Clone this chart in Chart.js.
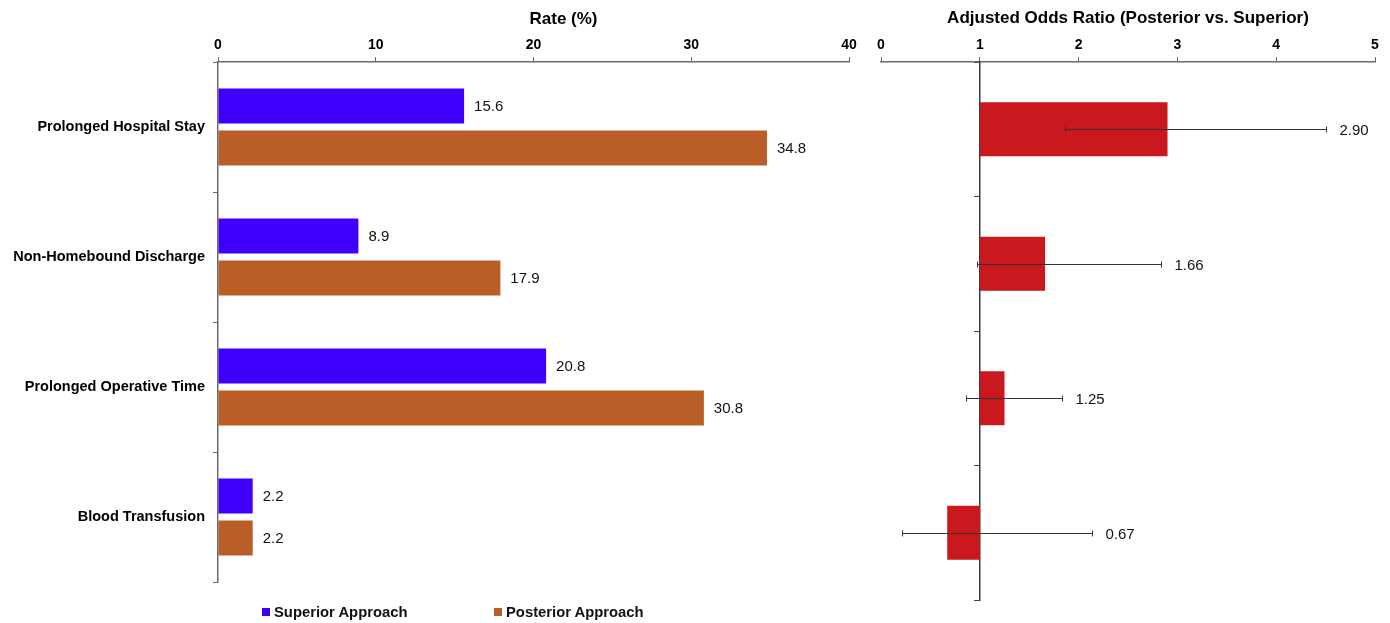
<!DOCTYPE html>
<html><head><meta charset="utf-8">
<script src="https://cdn.jsdelivr.net/npm/chart.js@4"></script>
<style>
html,body{margin:0;padding:0;background:#fff;}
body{width:1390px;height:623px;position:relative;overflow:hidden;font-family:"Liberation Sans",Arial,sans-serif;}
#c1{position:absolute;left:0;top:0;}
#c2{position:absolute;left:870px;top:0;}
.leg{position:absolute;top:603px;font:bold 14.8px "Liberation Sans",Arial,sans-serif;color:#111;white-space:nowrap;line-height:18px;}
.leg span{display:inline-block;width:8px;height:8px;margin-right:4px;vertical-align:middle;position:relative;top:-1px;}
</style></head><body>
<canvas id="c1" width="870" height="623"></canvas>
<canvas id="c2" width="520" height="623"></canvas>
<div class="leg" style="left:262px"><span style="background:#3E00FA"></span>Superior Approach</div>
<div class="leg" style="left:494px"><span style="background:#B95E26"></span>Posterior Approach</div>
<script>
const categories = ['Prolonged Hospital Stay', 'Non-Homebound Discharge', 'Prolonged Operative Time', 'Blood Transfusion'];
const seriesNames = ['Superior Approach', 'Posterior Approach'];
const superiorRates = [15.6, 8.9, 20.8, 2.2];
const posteriorRates = [34.8, 17.9, 30.8, 2.2];
const oddsRatios = [2.90, 1.66, 1.25, 0.67];
const oddsLower = [1.86, 0.97, 0.86, 0.21];
const oddsUpper = [4.50, 2.83, 1.83, 2.14];
const oddsReference = 1;
const rateAxisTitle = 'Rate (%)';
const oddsAxisTitle = 'Adjusted Odds Ratio (Posterior vs. Superior)';

const FONT = '"Liberation Sans", Arial, sans-serif';
const AXIS_COLOR = '#6a6a6a';
Chart.defaults.font.family = FONT;
Chart.defaults.color = '#000';
Chart.defaults.animation = false;

const rateLabels = {
  id: 'rateLabels',
  afterDatasetsDraw(chart) {
    const ctx = chart.ctx;
    ctx.save();
    ctx.font = '15px ' + FONT;
    ctx.fillStyle = '#111';
    ctx.textBaseline = 'middle';
    ctx.textAlign = 'left';
    chart.data.datasets.forEach((ds, di) => {
      chart.getDatasetMeta(di).data.forEach((el, i) => {
        ctx.fillText(ds.data[i].toFixed(1), el.x + 10, el.y + 1);
      });
    });
    ctx.restore();
  },
  afterDraw(chart) {
    const ctx = chart.ctx, a = chart.chartArea;
    ctx.save();
    ctx.font = 'bold 17px ' + FONT;
    ctx.fillStyle = '#000';
    ctx.textAlign = 'center';
    ctx.textBaseline = 'middle';
    ctx.fillText(rateAxisTitle, (a.left + a.right) / 2 + 30, 19);
    ctx.restore();
  }
};

const errorBars = {
  id: 'errorBars',
  afterDatasetsDraw(chart) {
    const ctx = chart.ctx;
    const xs = chart.scales.x;
    const meta = chart.getDatasetMeta(0);
    ctx.save();
    ctx.strokeStyle = '#333';
    ctx.lineWidth = 1;
    ctx.font = '15px ' + FONT;
    ctx.fillStyle = '#111';
    ctx.textBaseline = 'middle';
    meta.data.forEach((el, i) => {
      const y = Math.round(el.y) + 0.5;
      const xl = Math.round(xs.getPixelForValue(oddsLower[i])) + 0.5;
      const xh = Math.round(xs.getPixelForValue(oddsUpper[i])) + 0.5;
      ctx.beginPath();
      ctx.moveTo(xl, y); ctx.lineTo(xh, y);
      ctx.moveTo(xl, y - 3); ctx.lineTo(xl, y + 3);
      ctx.moveTo(xh, y - 3); ctx.lineTo(xh, y + 3);
      ctx.stroke();
      ctx.fillText(oddsRatios[i].toFixed(2), xh + 13, y + 1);
    });
    ctx.restore();
  }
};

new Chart(document.getElementById('c1'), {
  type: 'bar',
  data: {
    labels: categories,
    datasets: [
      { label: seriesNames[0], data: superiorRates, backgroundColor: '#3E00FA', categoryPercentage: 0.646, barPercentage: 0.833 },
      { label: seriesNames[1], data: posteriorRates, backgroundColor: '#B95E26', categoryPercentage: 0.646, barPercentage: 0.833 }
    ]
  },
  options: {
    responsive: false,
    indexAxis: 'y',
    layout: { padding: { top: 0, right: 21, bottom: 41, left: 0 } },
    plugins: { legend: { display: false }, tooltip: { enabled: false } },
    scales: {
      x: {
        position: 'top', min: 0, max: 40,
        ticks: { stepSize: 10, font: { size: 14, weight: 'bold' }, padding: 3, color: '#000' },
        grid: { drawOnChartArea: false, drawTicks: true, tickLength: 5, color: AXIS_COLOR },
        border: { color: AXIS_COLOR, width: 1.5 },
        afterFit(s) { s.height = 62; }
      },
      y: {
        ticks: { font: { size: 14.5, weight: 'bold' }, padding: 8, color: '#000' },
        grid: { drawOnChartArea: false, drawTicks: true, tickLength: 5, color: AXIS_COLOR, offset: true },
        border: { color: AXIS_COLOR, width: 1.5 },
        afterFit(s) { s.width = 218; }
      }
    }
  },
  plugins: [rateLabels]
});

new Chart(document.getElementById('c2'), {
  type: 'bar',
  data: {
    labels: categories,
    datasets: [
      { label: 'Adjusted Odds Ratio', data: oddsRatios.map(v => [oddsReference, v]), backgroundColor: '#C9191E', categoryPercentage: 0.4, barPercentage: 1 }
    ]
  },
  options: {
    responsive: false,
    indexAxis: 'y',
    layout: { padding: { top: 0, right: 15, bottom: 23, left: 11 } },
    plugins: { legend: { display: false }, tooltip: { enabled: false } },
    scales: {
      x: {
        position: 'top', min: 0, max: 5,
        ticks: { stepSize: 1, font: { size: 14, weight: 'bold' }, padding: 3, color: '#000' },
        grid: { drawOnChartArea: false, drawTicks: true, tickLength: 5, color: AXIS_COLOR },
        border: { color: AXIS_COLOR, width: 1.5 },
        title: { display: true, text: oddsAxisTitle, font: { size: 17, weight: 'bold' }, padding: { top: 8, bottom: 0 }, color: '#000' },
        afterFit(s) { s.height = 62; }
      },
      y: {
        position: { x: oddsReference },
        ticks: { display: false },
        grid: { drawOnChartArea: false, drawTicks: true, tickLength: 5, color: '#444', offset: true },
        border: { color: '#3a3a3a', width: 1.5 }
      }
    }
  },
  plugins: [errorBars]
});
</script>
</body></html>
